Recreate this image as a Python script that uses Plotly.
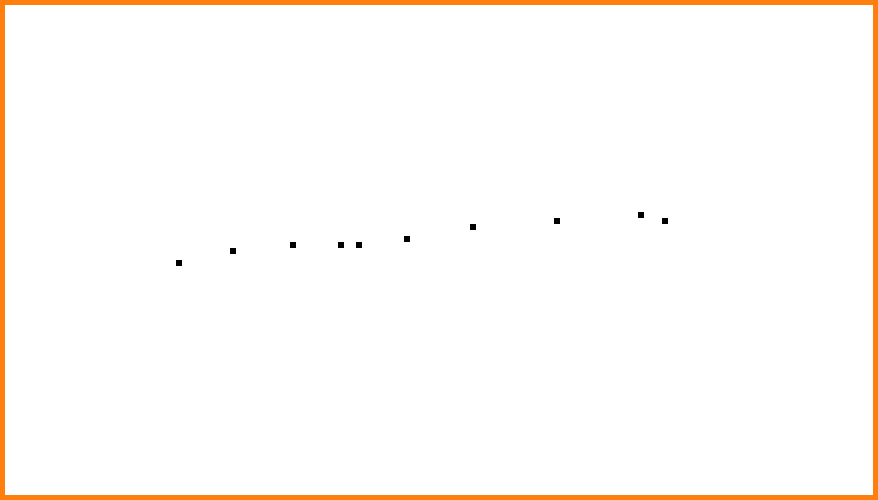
import plotly.graph_objects as go

x_values = [0, 9, 19, 27, 30, 38, 49, 63, 77, 81]
y_values = [0, 2, 3, 3, 3, 4, 6, 7, 8, 7]

fig = go.Figure(
    go.Scatter(
        x=x_values,
        y=y_values,
        mode="markers",
        marker=dict(symbol="square", size=6, color="black", line=dict(width=0)),
        hoverinfo="x+y",
    )
)

fig.update_layout(
    width=878,
    height=500,
    margin=dict(l=5, r=5, t=5, b=5),
    paper_bgcolor="#ff7f0e",
    plot_bgcolor="white",
    showlegend=False,
    xaxis=dict(range=[-29, -29 + 868 / 6], visible=False, showgrid=False, zeroline=False),
    yaxis=dict(range=[-232 / 6, 43], visible=False, showgrid=False, zeroline=False),
)

fig.write_html("out.html", config={"displayModeBar": False})
